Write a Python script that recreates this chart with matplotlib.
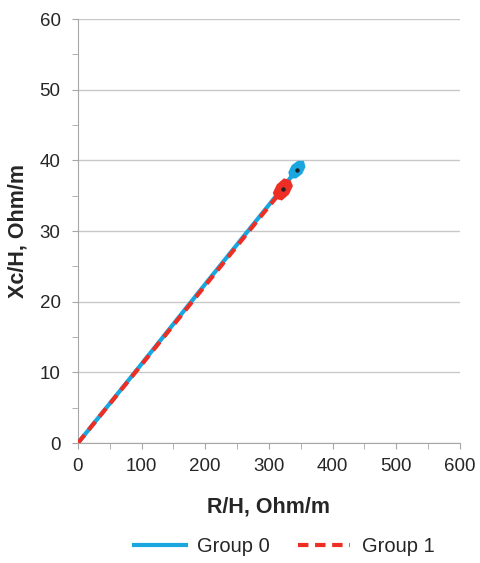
import matplotlib.pyplot as plt
from matplotlib.ticker import MultipleLocator

plt.rcParams['font.family'] = ['Liberation Sans', 'DejaVu Sans']

# Group 0: line from origin, then small loop around its end point
g0_x = [0, 100, 200, 300, 344, 352.9, 346.0, 337.9, 333.4, 335.1, 342.0, 350.1, 354.6, 352.9]
g0_y = [0, 11.2, 22.5, 33.7, 38.7, 39.7, 39.7, 39.15, 38.3, 37.7, 37.7, 38.25, 39.1, 39.7]
g0_end = (344, 38.7)

# Group 1: dashed, ends slightly lower
g1_x = [0, 100, 200, 300, 322, 331.9, 324.2, 314.7, 309.2, 312.1, 319.8, 329.3, 334.8, 331.9]
g1_y = [0, 11.1, 22.3, 33.5, 35.9, 37.0, 37.2, 36.45, 35.4, 34.8, 34.6, 35.35, 36.4, 37.0]
g1_end = (322, 35.9)

blue = '#1aa7e0'
red = '#ee2e24'

fig = plt.figure(figsize=(4.81, 5.63), dpi=100)
ax = fig.add_axes([0.162, 0.213, 0.794, 0.753])

ax.plot(g0_x[:5], g0_y[:5], color=blue, lw=3, label='Group 0', zorder=3)
ax.fill(g0_x[5:], g0_y[5:], color=blue, lw=2.5, zorder=3)
ax.plot(g1_x[:5], g1_y[:5], color=red, lw=3, ls=(0, (2.5, 1.6)), label='Group 1', zorder=4)
ax.fill(g1_x[5:], g1_y[5:], color=red, lw=2.5, zorder=4)
ax.plot(*g0_end, 'o', color='#222222', ms=2.2, zorder=5)
ax.plot(*g1_end, 'o', color='#222222', ms=2.2, zorder=5)

ax.set_xlim(0, 600)
ax.set_ylim(0, 60)
ax.xaxis.set_major_locator(MultipleLocator(100))
ax.xaxis.set_minor_locator(MultipleLocator(50))
ax.yaxis.set_major_locator(MultipleLocator(10))
ax.yaxis.set_minor_locator(MultipleLocator(5))
ax.grid(axis='y', color='#c8c8c8', lw=1)
ax.set_axisbelow(True)
for s in ['top', 'right']:
    ax.spines[s].set_visible(False)
for s in ['left', 'bottom']:
    ax.spines[s].set_color('#a6a6a6')
ax.tick_params(which='both', direction='out', length=4.5, color='#a6a6a6',
               labelsize=13.5, labelcolor='#262626')
ax.tick_params(axis='y', pad=8)
ax.tick_params(axis='x', pad=6)

ax.set_xlabel('R/H, Ohm/m', fontsize=15.5, fontweight='bold', color='#262626', labelpad=16)
ax.set_ylabel('Xc/H, Ohm/m', fontsize=15.5, fontweight='bold', color='#262626', labelpad=8)

fig.legend(loc='center', bbox_to_anchor=(284 / 481, 1 - 547 / 563), ncol=2, frameon=False,
           fontsize=14.5, handlelength=2.6, handletextpad=0.55, columnspacing=1.4,
           labelcolor='#262626')

fig.savefig('out.png', dpi=100)
